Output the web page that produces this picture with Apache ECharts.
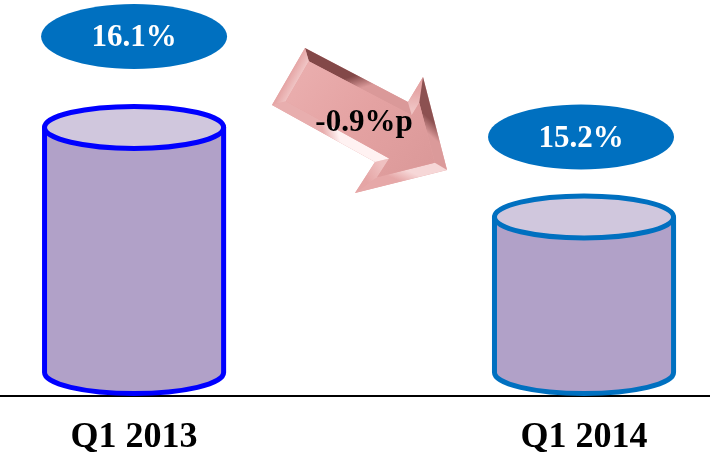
<!DOCTYPE html>
<html>
<head>
<meta charset="utf-8">
<script src="https://cdn.jsdelivr.net/npm/echarts@6/dist/echarts.min.js"></script>
<style>
  html, body { margin: 0; padding: 0; background: #ffffff; }
  #chart { width: 710px; height: 456px; }
</style>
</head>
<body>
<div id="chart"></div>
<script>
// Quarterly ratio, same quarter year over year
const categories = ['Q1 2013', 'Q1 2014'];
const ratios = [16.1, 15.2];

// Styling / layout constants
const SERIF = "'Liberation Serif', 'Times New Roman', serif";
const rimColors = ['#0000FF', '#0070C0'];
const badgeLift = [91, 80];        // px between cylinder top and value badge
const badgeShift = [0, -3];        // px horizontal nudge of the badge
const Y_MIN = 13.4, Y_MAX = 17.3;  // truncated value axis
const RIM = 5;

const chart = echarts.init(document.getElementById('chart'), null, { renderer: 'canvas' });

function renderCylinder(params, api) {
  const i = params.dataIndex;
  const xv = api.value(0), yv = api.value(1);
  const top = api.coord([xv, yv]);
  const base = api.coord([xv, Y_MIN]);
  const cx = top[0];
  const rx = api.size([0.199, 0])[0];
  const ry = 21;
  const bottomY = base[1] - ry - RIM / 2;
  const rim = rimColors[i % rimColors.length];
  const bodyPath =
    'M' + (cx - rx) + ' ' + top[1] +
    ' L' + (cx - rx) + ' ' + bottomY +
    ' A' + rx + ' ' + ry + ' 0 0 0 ' + (cx + rx) + ' ' + bottomY +
    ' L' + (cx + rx) + ' ' + top[1] + ' Z';
  const bx = cx + badgeShift[i], by = top[1] - badgeLift[i];
  return {
    type: 'group',
    children: [
      { type: 'path', shape: { pathData: bodyPath },
        style: { fill: '#B1A1C8', stroke: rim, lineWidth: RIM, lineJoin: 'round' } },
      { type: 'ellipse', shape: { cx: cx, cy: top[1], rx: rx, ry: ry },
        style: { fill: '#D0C7DD', stroke: rim, lineWidth: RIM } },
      { type: 'ellipse', shape: { cx: bx, cy: by, rx: 93, ry: 32.5 },
        style: { fill: '#0070C0' } },
      { type: 'text',
        style: { text: yv.toFixed(1) + '%', x: bx, y: by + 2, align: 'center', verticalAlign: 'middle',
                 fill: '#FFFFFF', font: 'bold 31px ' + SERIF } }
    ]
  };
}

// Beveled arrow showing the change between the two quarters
function mix(a, b, t) {
  const pa = [1, 3, 5].map(k => parseInt(a.substr(k, 2), 16));
  const pb = [1, 3, 5].map(k => parseInt(b.substr(k, 2), 16));
  return 'rgb(' + pa.map((v, k) => Math.round(v + (pb[k] - v) * t)).join(',') + ')';
}

function buildArrow() {
  const outer = [[305, 48], [408, 102], [423, 77], [447, 170], [355, 193], [375, 162], [272, 105]];
  const n = outer.length;
  let area = 0;
  for (let k = 0; k < n; k++) {
    const a = outer[k], b = outer[(k + 1) % n];
    area += a[0] * b[1] - b[0] * a[1];
  }
  const sgn = area > 0 ? 1 : -1;
  const normals = outer.map((a, k) => {
    const b = outer[(k + 1) % n];
    const dx = b[0] - a[0], dy = b[1] - a[1];
    const len = Math.hypot(dx, dy);
    return [sgn * -dy / len, sgn * dx / len];
  });
  const d = 10;
  const inner = outer.map((p, k) => {
    const n1 = normals[(k - 1 + n) % n], n2 = normals[k];
    const dot = n1[0] * n2[0] + n1[1] * n2[1];
    const f = d / (1 + dot);
    return [p[0] + (n1[0] + n2[0]) * f, p[1] + (n1[1] + n2[1]) * f];
  });
  // light falls from the lower left
  const L = [-0.7071, 0.7071];
  const baseCol = '#E4A2A2', lightCol = '#FFF2F2', darkCol = '#7E4444';
  const children = [];
  children.push({ type: 'polygon', shape: { points: outer }, style: { fill: baseCol } });
  for (let k = 0; k < n; k++) {
    const k2 = (k + 1) % n;
    const o = [-normals[k][0], -normals[k][1]];
    const s = o[0] * L[0] + o[1] * L[1];
    let cOut, cIn;
    if (s > 0) {
      cOut = mix(baseCol, lightCol, 0.15 * s);
      cIn = mix(baseCol, lightCol, Math.min(1, 0.9 * s + 0.2));
    } else {
      cOut = mix(baseCol, darkCol, Math.min(1, -s));
      cIn = mix(baseCol, darkCol, 0.1 * -s);
    }
    const mo = [(outer[k][0] + outer[k2][0]) / 2, (outer[k][1] + outer[k2][1]) / 2];
    const mi = [(inner[k][0] + inner[k2][0]) / 2, (inner[k][1] + inner[k2][1]) / 2];
    const grad = new echarts.graphic.LinearGradient(mo[0], mo[1], mi[0], mi[1],
      [{ offset: 0, color: cOut }, { offset: 1, color: cIn }], true);
    children.push({ type: 'polygon', shape: { points: [outer[k], outer[k2], inner[k2], inner[k]] },
                    style: { fill: grad } });
  }
  children.push({ type: 'polygon', shape: { points: inner },
    style: { fill: new echarts.graphic.LinearGradient(0, 0, 1, 1, [
      { offset: 0, color: '#EBB0B0' }, { offset: 0.5, color: '#E4A2A2' }, { offset: 1, color: '#DA9898' }]) } });
  const delta = (ratios[1] - ratios[0]).toFixed(1) + '%p';
  children.push({ type: 'text', style: { text: delta, x: 364, y: 123, align: 'center', verticalAlign: 'middle',
    fill: '#000000', font: 'bold 31px ' + SERIF } });
  return { type: 'group', z: 10, children: children };
}

chart.setOption({
  animation: false,
  backgroundColor: '#FFFFFF',
  grid: { left: 0, right: 0, top: 8, bottom: 58, containLabel: false },
  xAxis: {
    type: 'value',
    min: -0.298, max: 1.28,
    splitLine: { show: false },
    axisTick: { show: false },
    axisLine: { show: true, onZero: false, lineStyle: { color: '#000000', width: 2 } },
    axisLabel: {
      customValues: [0, 1],
      formatter: v => categories[Math.round(v)] || '',
      margin: 24,
      color: '#000000',
      fontFamily: SERIF, fontWeight: 'bold', fontSize: 36
    }
  },
  yAxis: { type: 'value', min: Y_MIN, max: Y_MAX, show: false, splitLine: { show: false } },
  series: [{
    type: 'custom',
    clip: false,
    renderItem: renderCylinder,
    data: ratios.map((v, i) => [i, v])
  }],
  graphic: [buildArrow()]
});
</script>
</body>
</html>
